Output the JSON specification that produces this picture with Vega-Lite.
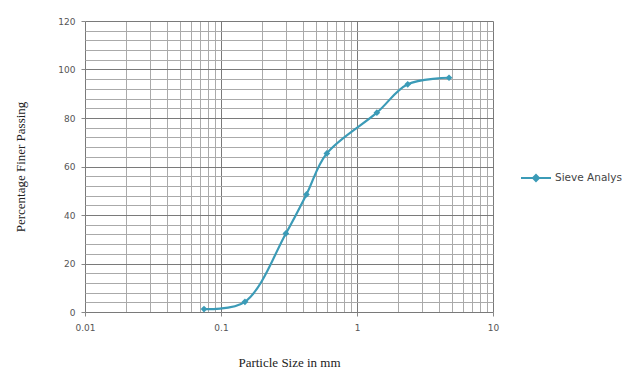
{
  "$schema": "https://vega.github.io/schema/vega-lite/v6.json",
  "autosize": {"type": "none"},
  "width": 408,
  "height": 291,
  "padding": {"left": 85, "top": 21, "right": 129, "bottom": 62},
  "background": "white",
  "config": {
    "view": {"stroke": null},
    "axis": {"domain": false}
  },
  "data": {
    "values": [
      {"size": 0.075, "passing": 1.2, "series": "Sieve Analysis"},
      {"size": 0.15, "passing": 4.2, "series": "Sieve Analysis"},
      {"size": 0.3, "passing": 32.4, "series": "Sieve Analysis"},
      {"size": 0.425, "passing": 48.5, "series": "Sieve Analysis"},
      {"size": 0.6, "passing": 65.4, "series": "Sieve Analysis"},
      {"size": 1.4, "passing": 82.2, "series": "Sieve Analysis"},
      {"size": 2.36, "passing": 93.9, "series": "Sieve Analysis"},
      {"size": 4.75, "passing": 96.6, "series": "Sieve Analysis"}
    ]
  },
  "encoding": {
    "x": {
      "field": "size",
      "type": "quantitative",
      "scale": {"type": "log", "domain": [0.01, 10], "nice": false},
      "axis": {
        "title": "Particle Size in mm",
        "titleFont": "Liberation Serif",
        "titleFontSize": 13,
        "titleFontWeight": "normal",
        "titleColor": "#222222",
        "titlePadding": 24,
        "values": [0.01, 0.02, 0.03, 0.04, 0.05, 0.06, 0.07, 0.08, 0.09, 0.1, 0.2, 0.3, 0.4, 0.5, 0.6, 0.7, 0.8, 0.9, 1, 2, 3, 4, 5, 6, 7, 8, 9, 10],
        "labelExpr": "datum.value == 0.01 ? '0.01' : datum.value == 0.1 ? '0.1' : datum.value == 1 ? '1' : datum.value == 10 ? '10' : ''",
        "labelFont": "DejaVu Sans",
        "labelFontSize": 9,
        "labelColor": "#555555",
        "labelPadding": 7,
        "labelFlush": false,
        "grid": true,
        "gridColor": {"condition": {"test": "datum.value == 0.01 || datum.value == 0.1 || datum.value == 1 || datum.value == 10", "value": "#7a7a7a"}, "value": "#aaaaaa"},
        "gridWidth": 1,
        "ticks": true,
        "tickSize": 4,
        "tickColor": "#888888",
        "tickOpacity": {"condition": {"test": "datum.value == 0.01 || datum.value == 0.1 || datum.value == 1 || datum.value == 10", "value": 1}, "value": 0}
      }
    },
    "y": {
      "field": "passing",
      "type": "quantitative",
      "scale": {"domain": [0, 120], "nice": false},
      "axis": {
        "title": "Percentage Finer Passing",
        "titleFont": "Liberation Serif",
        "titleFontSize": 13,
        "titleFontWeight": "normal",
        "titleColor": "#222222",
        "titlePadding": 30,
        "values": [0, 4, 8, 12, 16, 20, 24, 28, 32, 36, 40, 44, 48, 52, 56, 60, 64, 68, 72, 76, 80, 84, 88, 92, 96, 100, 104, 108, 112, 116, 120],
        "labelExpr": "datum.value % 20 == 0 ? datum.label : ''",
        "labelFont": "DejaVu Sans",
        "labelFontSize": 9,
        "labelColor": "#555555",
        "labelPadding": 6,
        "grid": true,
        "gridColor": {"condition": {"test": "datum.value % 20 == 0", "value": "#7a7a7a"}, "value": "#aaaaaa"},
        "gridWidth": 1,
        "ticks": true,
        "tickSize": 4,
        "tickColor": "#888888",
        "tickOpacity": {"condition": {"test": "datum.value % 20 == 0", "value": 1}, "value": 0}
      }
    },
    "color": {
      "field": "series",
      "type": "nominal",
      "scale": {"range": ["#3b9bb7"]},
      "legend": {
        "title": null,
        "orient": "none",
        "legendX": 435,
        "legendY": 141,
        "symbolType": "M-1,0H1M-0.2,0L0,-0.2L0.2,0L0,0.2Z",
        "symbolSize": 900,
        "symbolStrokeWidth": 2,
        "symbolFillColor": "#3b9bb7",
        "symbolStrokeColor": "#3b9bb7",
        "labelFont": "DejaVu Sans",
        "labelFontSize": 10.5,
        "labelColor": "#444444",
        "labelLimit": 0,
        "labelOffset": 3
      }
    }
  },
  "layer": [
    {
      "mark": {"type": "line", "interpolate": "catmull-rom", "strokeWidth": 2.2}
    },
    {
      "mark": {"type": "point", "shape": "diamond", "filled": true, "size": 45, "opacity": 1}
    }
  ]
}
